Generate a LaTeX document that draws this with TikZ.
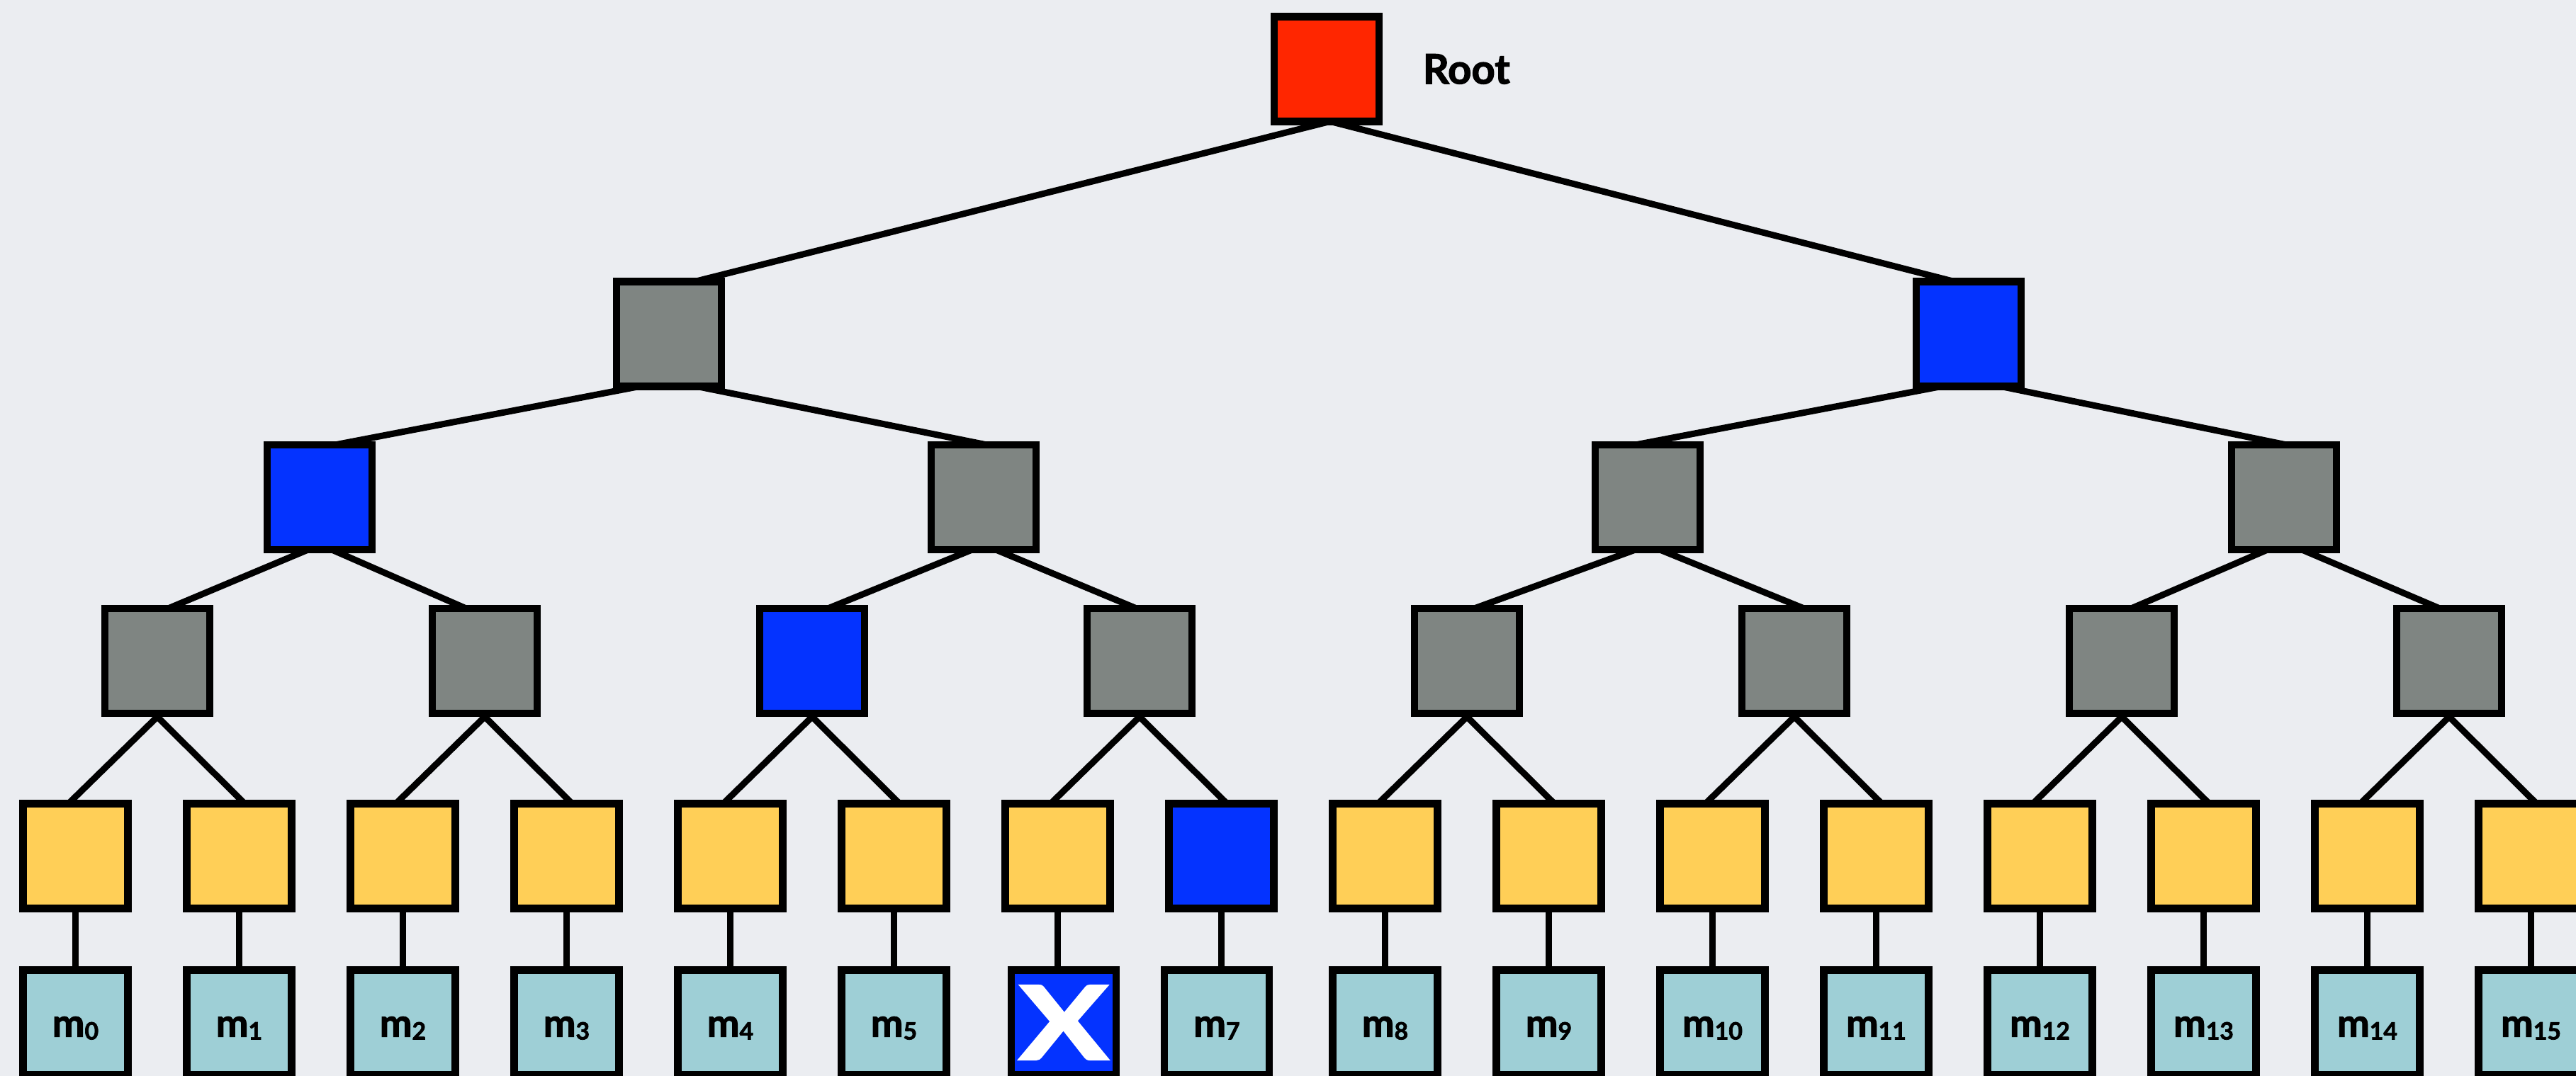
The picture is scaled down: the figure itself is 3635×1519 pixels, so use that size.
\documentclass[tikz,border=0pt]{standalone}
\usepackage{fontspec}
\usepackage{graphicx}
\setmainfont{Lato}[BoldFeatures={FakeBold=2}]
\usetikzlibrary{calc}
\definecolor{bgcol}{RGB}{235,237,241}
\definecolor{rootred}{RGB}{255,38,0}
\definecolor{nodegray}{RGB}{127,133,130}
\definecolor{pathblue}{RGB}{4,51,255}
\definecolor{leafyellow}{RGB}{255,207,87}
\definecolor{msgteal}{RGB}{158,207,214}
\newcommand{\msg}[1]{m\raisebox{-0.04cm}{\fontsize{9.6}{9.6}\selectfont #1}}
\begin{document}
\begin{tikzpicture}[x=0.01cm,y=-0.01cm,
  box/.style={draw=black, line width=0.107cm, minimum size=1.477cm,
              inner sep=0pt, outer sep=0pt},
  rootbox/.style={box, fill=rootred},
  greybox/.style={box, fill=nodegray},
  bluebox/.style={box, fill=pathblue},
  yellowbox/.style={box, fill=leafyellow},
  msgbox/.style={box, fill=msgteal, font=\fontsize{15.5}{15.5}\selectfont\bfseries,
                 text height=0.4cm, text depth=0cm},
  link/.style={line width=0.09cm, line cap=butt, draw=black}]
\fill[bgcol] (0,0) rectangle (3635,1519);
\useasboundingbox (0,0) rectangle (3635,1519);

% root and its label
\node[rootbox] (r) at (1872,97.5) {};
\node[anchor=west, inner sep=0pt, font=\fontsize{16.5}{16.5}\selectfont\bfseries] (rlabel) at (2007,97.5) {Root};

% level 1
\node[greybox] (a0) at (944,471.5) {};
\node[bluebox] (a1) at (2778,471.5) {};

% level 2
\node[bluebox] (b0) at (451,702) {};
\node[greybox] (b1) at (1388,702) {};
\node[greybox] (b2) at (2325,702) {};
\node[greybox] (b3) at (3223,702) {};

% level 3
\foreach \i in {0,...,7}{
  \ifnum\i=2
    \node[bluebox] (c\i) at ({222+462*\i},933) {};
  \else
    \node[greybox] (c\i) at ({222+462*\i},933) {};
  \fi
}

% level 4
\foreach \i in {0,...,15}{
  \ifnum\i=7
    \node[bluebox] (y\i) at ({106.5+231*\i},1208.5) {};
  \else
    \node[yellowbox] (y\i) at ({106.5+231*\i},1208.5) {};
  \fi
}

% messages
\foreach \i in {0,1,2,3,4,5,8,9,10,11,12,13,14,15}{
  \node[msgbox] (m\i) at ({106.5+231*\i},1443.5) {\msg{\i}};
}
\node[box, fill=pathblue, text=white, font=\fontsize{41}{41}\selectfont\bfseries] (m6) at (1501,1443.5) {\scalebox{1.3}[1]{X}};
\node[msgbox] (m7) at (1717,1443.5) {\msg{7}};

% connectors between levels
\draw[link] ($(r.south)+(5,0)$) -- ($(a0.north)+(36,0)$);
\draw[link] ($(r.south)+(5,0)$) -- ($(a1.north)+(-20,0)$);

\draw[link] ($(a0.south)+(-41,0)$) -- ($(b0.north)+(21,0)$);
\draw[link] ($(a0.south)+(39,0)$) -- ($(b1.north)+(5,0)$);
\draw[link] ($(a1.south)+(-38,0)$) -- ($(b2.north)+(-18,0)$);
\draw[link] ($(a1.south)+(45,0)$) -- ($(b3.north)+(4,0)$);

\draw[link] ($(b0.south)+(-16,0)$) -- ($(c0.north)+(15,0)$);
\draw[link] ($(b0.south)+(17,0)$) -- ($(c1.north)+(-26,0)$);
\draw[link] ($(b1.south)+(-16,0)$) -- ($(c2.north)+(22,0)$);
\draw[link] ($(b1.south)+(17,0)$) -- ($(c3.north)+(-4,0)$);
\draw[link] ($(b2.south)+(-17,0)$) -- ($(c4.north)+(10,0)$);
\draw[link] ($(b2.south)+(17,0)$) -- ($(c5.north)+(14,0)$);
\draw[link] ($(b3.south)+(-23,0)$) -- ($(c6.north)+(13,0)$);
\draw[link] ($(b3.south)+(25,0)$) -- ($(c7.north)+(-13,0)$);

\foreach \j [evaluate=\j as \l using int(2*\j), evaluate=\j as \rr using int(2*\j+1)] in {0,...,7}{
  \draw[link] ($(c\j.south)+(0,5)$) -- ($(y\l.north)+(-10,0)$);
  \draw[link] ($(c\j.south)+(0,5)$) -- ($(y\rr.north)+(8,0)$);
}

\foreach \i in {0,...,15}{
  \draw[link] (y\i.south) -- (y\i.south |- m\i.north);
}
\end{tikzpicture}
\end{document}
